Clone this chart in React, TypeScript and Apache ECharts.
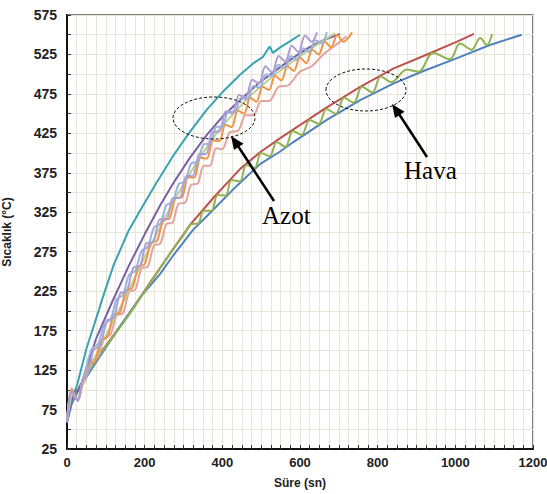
import React, { useEffect, useRef } from "react";
import * as echarts from "echarts";

// Tick values
const xTicks = [0, 200, 400, 600, 800, 1000, 1200];
const yTicks = [25, 75, 125, 175, 225, 275, 325, 375, 425, 475, 525, 575];

// ---- Azot (nitrogen) series: [time s, temperature °C]
const azotTeal = [[0,60],[5,76],[15,92],[26,106],[50,152],[82,201],[90,214],[120,258],[159,302],[188,327],[230,362],[274,397],[315,426],[360,455],[400,477],[445,499],[480,514],[505,522],[515,530],[522,535],[530,527],[549,534],[575,542],[600,550]];
const azotPurple = [[0,60],[15,95],[30,100],[39,110],[75,165],[115,210],[160,258],[201,298],[240,334],[274,362],[315,393],[360,423],[400,446],[445,467],[497,490],[549,509],[583,521],[620,533],[660,543],[703,551]];
const azotLavender = [[0,60],[12,98],[28,86],[40,112],[52,118],[69,151],[86,156],[103,188],[120,191],[137,222],[154,225],[171,255],[188,257],[205,286],[222,287],[239,316],[256,316],[273,343],[290,343],[307,371],[324,371],[341,399],[358,399],[375,427],[392,427],[409,453],[426,450],[443,474],[460,470],[477,493],[494,488],[511,510],[528,502],[545,523],[562,516],[579,536],[596,528],[613,549],[630,541],[644,553]];
const azotLightBlue = [[0,60],[12,98],[28,87],[40,112],[48,126],[64,152],[80,158],[96,183],[112,189],[128,215],[144,220],[160,246],[176,251],[192,276],[208,281],[224,306],[240,310],[256,334],[272,338],[288,361],[304,364],[320,387],[336,389],[352,411],[368,412],[384,433],[400,434],[416,453],[432,452],[448,470],[464,468],[480,485],[496,483],[512,500],[528,498],[544,512],[560,508],[576,523],[592,518],[608,533],[624,528],[640,543],[656,539],[669,553]];
const azotLightGreen = [[0,60],[12,96],[28,86],[40,108],[70,140],[107,175],[147,214],[192,260],[233,300],[272,336],[306,366],[347,398],[392,430],[432,452],[477,475],[529,497],[581,516],[615,528],[652,540],[690,552]];
const azotSalmon = [[0,60],[12,102],[28,86],[40,106],[48,114],[64,137],[80,142],[96,165],[112,170],[128,194],[144,197],[160,224],[176,227],[192,254],[208,256],[224,283],[240,285],[256,310],[272,312],[288,336],[304,337],[320,360],[336,361],[352,384],[368,384],[384,406],[400,405],[420,427],[440,428],[460,448],[480,448],[500,466],[520,466],[545,484],[570,486],[600,503],[630,510],[660,525],[700,540],[720,548]];
const azotOrange = [[0,60],[12,100],[28,88],[40,110],[56,132],[72,136],[88,163],[104,167],[120,195],[136,198],[152,226],[168,229],[184,256],[200,259],[216,286],[232,289],[248,315],[264,317],[280,343],[296,344],[312,369],[328,369],[344,394],[360,393],[376,416],[392,415],[408,436],[424,433],[440,454],[456,450],[472,470],[488,465],[504,484],[520,480],[536,498],[552,492],[568,510],[584,504],[600,521],[616,514],[632,531],[648,525],[664,541],[680,534],[696,550],[712,541],[734,553]];

// ---- Hava (air) series
const havaRed = [[0,63],[12,90],[30,102],[60,128],[94,152],[154,192],[214,236],[270,276],[320,311],[380,345],[446,380],[497,401],[549,419],[583,430],[669,458],[755,484],[840,507],[918,523],[1003,541],[1048,551]];
const havaGreen = [[0,62],[12,88],[30,102],[60,127],[94,151],[154,191],[214,235],[270,276],[300,296],[320,310],[338,311],[352,327],[372,327],[388,347],[408,346],[424,366],[445,364],[462,385],[483,381],[500,400],[522,396],[540,414],[562,408],[582,428],[604,423],[625,442],[648,437],[668,456],[692,450],[714,470],[738,464],[760,484],[786,477],[808,497],[835,490],[875,506],[905,503],[943,527],[986,519],[1012,539],[1042,531],[1064,546],[1081,537],[1095,551]];
const havaBlue = [[0,58],[12,82],[30,100],[60,124],[90,146],[140,183],[190,218],[240,247],[270,268],[325,303],[360,320],[430,355],[497,386],[549,402],[583,414],[669,442],[755,467],[840,488],[918,504],[1003,520],[1089,537],[1171,550]];

const seriesList = [
  { name: "Hava 1", data: havaRed, color: "#c0504d", smooth: false },
  { name: "Hava 3", data: havaBlue, color: "#4f81bd", smooth: false },
  { name: "Hava 2", data: havaGreen, color: "#8fb350", smooth: 0.35 },
  { name: "Azot 1", data: azotTeal, color: "#3aa3b2", smooth: false },
  { name: "Azot 2", data: azotPurple, color: "#7b5fa3", smooth: false },
  { name: "Azot 6", data: azotSalmon, color: "#e3a39e", smooth: 0.3 },
  { name: "Azot 7", data: azotLightGreen, color: "#bcd08f", smooth: false },
  { name: "Azot 5", data: azotOrange, color: "#ef9445", smooth: 0.3 },
  { name: "Azot 4", data: azotLightBlue, color: "#98b3dc", smooth: 0.3 },
  { name: "Azot 3", data: azotLavender, color: "#ad9fd3", smooth: 0.3 },
];

const gridColor = "#e6e5d8";
const labelFont = {
  fontFamily: "'Liberation Sans', Arial, sans-serif",
  fontWeight: "bold" as const,
  fontSize: 14,
  color: "#222",
};

export default function App() {
  const ref = useRef<HTMLDivElement>(null);
  useEffect(() => {
    if (!ref.current) return;
    const chart = echarts.init(ref.current, null, { renderer: "svg" });
    chart.setOption({
      animation: false,
      backgroundColor: "#fff",
      grid: {
        left: 67,
        right: 14,
        top: 15,
        bottom: 45,
        show: true,
        borderColor: "#555",
        borderWidth: 1.5,
        backgroundColor: "transparent",
        containLabel: false,
        outerBoundsMode: "none",
      },
      xAxis: {
        type: "value",
        min: xTicks[0],
        max: xTicks[xTicks.length - 1],
        interval: 200,
        name: "Süre (sn)",
        nameLocation: "middle",
        nameGap: 28,
        nameTextStyle: { ...labelFont, fontSize: 12 },
        axisLine: { show: true, onZero: false, lineStyle: { color: "#111", width: 2 } },
        axisTick: { show: true, inside: true, length: 4, lineStyle: { color: "#333" } },
        minorTick: { show: true, splitNumber: 8, length: 4, lineStyle: { color: "#333" } },
        axisLabel: { ...labelFont, fontSize: 13, margin: 7, formatter: (v: number) => String(v) },
        splitLine: { show: true, lineStyle: { color: gridColor, width: 1 } },
        minorSplitLine: { show: true, lineStyle: { color: gridColor, width: 1 } },
      },
      yAxis: {
        type: "value",
        min: yTicks[0],
        max: yTicks[yTicks.length - 1],
        interval: 50,
        name: "Sıcaklık (°C)",
        nameLocation: "middle",
        nameGap: 54,
        nameRotate: 90,
        nameTextStyle: { ...labelFont, fontSize: 12 },
        axisLine: { show: true, onZero: false, lineStyle: { color: "#111", width: 2 } },
        axisTick: { show: true, inside: true, length: 4, lineStyle: { color: "#333" } },
        minorTick: { show: true, splitNumber: 2, length: 4, lineStyle: { color: "#333" } },
        axisLabel: { ...labelFont, margin: 10, formatter: (v: number) => String(v) },
        splitLine: { show: true, lineStyle: { color: gridColor, width: 1 } },
        minorSplitLine: { show: true, lineStyle: { color: gridColor, width: 1 } },
      },
      series: seriesList.map((s) => ({
        name: s.name,
        type: "line",
        data: s.data,
        showSymbol: false,
        smooth: s.smooth,
        lineStyle: { color: s.color, width: 2 },
        itemStyle: { color: s.color },
        emphasis: { disabled: true },
      })),
      graphic: [
        {
          type: "ellipse",
          shape: { cx: 214, cy: 118, rx: 41, ry: 21 },
          style: { fill: "none", stroke: "#111", lineWidth: 1, lineDash: [3, 2] },
          z: 100,
        },
        {
          type: "ellipse",
          shape: { cx: 366, cy: 90, rx: 40, ry: 21 },
          style: { fill: "none", stroke: "#111", lineWidth: 1, lineDash: [3, 2] },
          z: 100,
        },
        {
          type: "line",
          shape: { x1: 274, y1: 201, x2: 238, y2: 146 },
          style: { stroke: "#000", lineWidth: 2.5 },
          z: 100,
        },
        {
          type: "polygon",
          shape: { points: [[231, 136], [243.5, 143.8], [234, 150]] },
          style: { fill: "#000" },
          z: 100,
        },
        {
          type: "line",
          shape: { x1: 427, y1: 157, x2: 399, y2: 114 },
          style: { stroke: "#000", lineWidth: 2.5 },
          z: 100,
        },
        {
          type: "polygon",
          shape: { points: [[392, 104], [404.5, 111.8], [395, 118]] },
          style: { fill: "#000" },
          z: 100,
        },
        {
          type: "text",
          x: 262,
          y: 228,
          style: {
            text: "Azot",
            font: "25px 'Liberation Serif', 'Times New Roman', serif",
            fill: "#000",
            textVerticalAlign: "bottom",
          },
          z: 100,
        },
        {
          type: "text",
          x: 404,
          y: 183,
          style: {
            text: "Hava",
            font: "25px 'Liberation Serif', 'Times New Roman', serif",
            fill: "#000",
            textVerticalAlign: "bottom",
          },
          z: 100,
        },
      ],
    });
    return () => chart.dispose();
  }, []);
  return (
    <div
      ref={ref}
      style={{ position: "absolute", left: 0, top: 0, width: 547, height: 494 }}
    />
  );
}
